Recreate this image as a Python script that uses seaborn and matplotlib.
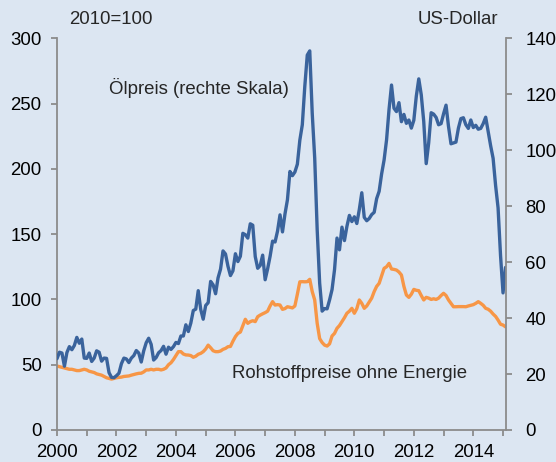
import numpy as np
import pandas as pd
import matplotlib
matplotlib.use("Agg")
import matplotlib.pyplot as plt
import seaborn as sns

# Monthly data, Jan 2000 - Feb 2015
start_year = 2000
oil_usd = [  # Ölpreis (Brent, US-Dollar, right axis)
    25.5, 27.8, 27.5, 22.8, 27.7, 29.8, 28.7, 30.2, 33.1, 31.0, 32.5, 25.7,
    25.6, 27.5, 24.5, 25.7, 28.3, 27.8, 24.6, 25.7, 25.6, 20.5, 18.8, 18.7,
    19.4, 20.3, 23.7, 25.7, 25.4, 24.1, 25.7, 26.6, 28.4, 27.5, 24.3, 28.3,
    31.2, 32.8, 30.6, 25.0, 25.9, 27.6, 28.4, 29.9, 27.1, 29.6, 28.8, 29.8,
    31.3, 30.9, 33.6, 33.6, 37.6, 35.2, 38.2, 42.7, 43.2, 49.8, 43.1, 39.6,
    44.5, 45.5, 53.1, 51.9, 48.7, 54.4, 57.5, 64.0, 62.9, 58.5, 55.2, 56.9,
    63.0, 60.2, 62.1, 70.3, 69.8, 68.6, 73.7, 73.2, 62.0, 57.8, 58.8, 62.5,
    53.7, 57.6, 62.1, 67.5, 67.2, 71.1, 76.9, 70.8, 77.2, 82.3, 92.4, 90.9,
    92.2, 95.0, 103.6, 109.1, 122.8, 134.0, 135.5, 113.2, 97.2, 71.6, 52.5, 42.5,
    43.4, 43.3, 46.5, 50.2, 57.3, 68.6, 64.4, 72.5, 67.7, 72.8, 76.7, 74.5,
    76.2, 73.8, 78.8, 84.8, 76.0, 74.8, 75.6, 77.0, 77.8, 82.7, 85.3, 91.5,
    96.5, 103.7, 114.6, 123.3, 115.0, 113.8, 117.0, 110.2, 112.8, 109.6, 110.8, 107.9,
    110.7, 119.3, 125.5, 119.8, 110.3, 95.2, 102.6, 113.4, 112.9, 111.7, 109.1, 109.5,
    113.0, 116.1, 108.5, 102.3, 102.6, 102.9, 107.9, 111.3, 111.6, 109.1, 107.8, 110.8,
    108.1, 108.9, 107.5, 107.8, 109.5, 111.8, 106.8, 101.6, 97.1, 87.4, 79.4, 62.3,
    49.0, 58.1,
]
non_energy_idx = [  # Rohstoffpreise ohne Energie (2010=100, left axis)
    49.0, 48.5, 48.0, 47.5, 47.0, 46.5, 46.5, 46.0, 45.5, 45.5, 46.0, 46.5,
    46.0, 45.0, 44.5, 44.0, 43.0, 42.5, 42.0, 41.0, 40.0, 39.5, 39.0, 39.5,
    40.0, 40.3, 40.5, 41.0, 41.2, 41.4, 42.0, 42.5, 43.0, 43.4, 43.5, 44.5,
    46.0, 46.0, 46.5, 46.0, 46.5, 46.5, 46.0, 46.5, 47.5, 50.0, 51.5, 54.0,
    57.0, 60.0, 60.0, 58.2, 57.5, 57.4, 57.0, 55.7, 56.5, 58.0, 58.7, 60.0,
    62.0, 65.0, 63.0, 60.7, 60.0, 60.0, 60.5, 61.8, 62.5, 63.8, 64.0, 68.0,
    71.5, 74.0, 75.0, 80.0, 84.8, 81.7, 83.0, 83.7, 83.0, 86.8, 88.0, 89.0,
    89.9, 91.0, 95.0, 98.3, 95.7, 96.0, 95.7, 92.4, 93.0, 94.4, 94.0, 93.5,
    95.0, 104.0, 113.5, 113.6, 113.5, 113.6, 115.4, 106.0, 99.6, 81.7, 70.0, 67.0,
    65.0, 64.3, 66.0, 72.0, 74.0, 77.9, 80.0, 83.0, 86.0, 89.4, 91.0, 93.2,
    89.4, 93.0, 99.6, 97.0, 93.2, 95.0, 98.0, 101.0, 106.0, 110.0, 112.3, 118.0,
    123.8, 125.0, 127.6, 123.3, 123.0, 122.5, 121.0, 118.7, 110.0, 103.4, 101.6, 104.0,
    107.7, 107.0, 106.7, 103.0, 99.6, 101.6, 101.0, 100.0, 100.5, 100.0, 101.0, 103.0,
    104.7, 103.0, 99.6, 97.0, 94.4, 94.4, 94.5, 94.5, 94.5, 94.4, 95.0, 95.5,
    96.0, 97.0, 98.3, 97.0, 95.5, 93.2, 92.5, 91.0, 88.8, 87.0, 84.2, 81.0,
    80.4, 79.0,
]
left_ticks = [0, 50, 100, 150, 200, 250, 300]
right_ticks = [0, 20, 40, 60, 80, 100, 120, 140]
year_ticks = list(range(2000, 2016))
label_oil = "Ölpreis (rechte Skala)"
label_ne = "Rohstoffpreise ohne Energie"
unit_left = "2010=100"
unit_right = "US-Dollar"

n = len(oil_usd)
t = start_year + np.arange(n) / 12.0
df = pd.DataFrame({"t": t, "oil": oil_usd, "ne": non_energy_idx})

bg = "#dce6f2"
blue = "#3a639c"
orange = "#f79646"
grey = "#8c8c8c"
fs = 13.4

sns.set_style("ticks")
plt.rcParams["font.family"] = ["Liberation Sans", "DejaVu Sans"]
plt.rcParams["font.size"] = fs

fig = plt.figure(figsize=(5.56, 4.62), dpi=100, facecolor=bg)
ax = fig.add_axes([57/556, 1-430/462, (506-57)/556, (430-38.3)/462])
ax.set_facecolor(bg)
ax2 = ax.twinx()

sns.lineplot(data=df, x="t", y="ne", ax=ax, color=orange, linewidth=2.4)
sns.lineplot(data=df, x="t", y="oil", ax=ax2, color=blue, linewidth=2.4)

ax.set_xlim(2000, 2015.1)
ax.set_ylim(0, 300)
ax2.set_ylim(0, 140)
ax.set_xticks(year_ticks)
ax.set_xticklabels([str(y) if y % 2 == 0 else "" for y in year_ticks])
ax.set_yticks(left_ticks)
ax2.set_yticks(right_ticks)
for a in (ax, ax2):
    a.set_xlabel("")
    a.set_ylabel("")
    for s in a.spines.values():
        s.set_color(grey)
        s.set_linewidth(1.3)
    a.spines["top"].set_visible(False)
ax.spines["right"].set_visible(False)
ax2.spines["left"].set_visible(False)
ax2.spines["bottom"].set_visible(False)
ax.tick_params(axis="both", colors=grey, labelcolor="black", length=4, width=1.3, labelsize=fs)
ax.tick_params(axis="y", pad=7)
ax.tick_params(axis="x", pad=6)
ax2.tick_params(axis="y", colors=grey, labelcolor="black", length=4, width=1.3, labelsize=fs, pad=10)

ax.text(0.0267, 1.047, unit_left, transform=ax.transAxes, ha="left", va="center", fontsize=fs)
ax.text(0.9815, 1.047, unit_right, transform=ax.transAxes, ha="right", va="center", fontsize=fs)
ax.text(0.1165, 0.872, label_oil, transform=ax.transAxes, ha="left", va="center", fontsize=fs)
ax.text(0.390, 0.1455, label_ne, transform=ax.transAxes, ha="left", va="center", fontsize=fs)

fig.savefig("out.png", dpi=100, facecolor=bg)
